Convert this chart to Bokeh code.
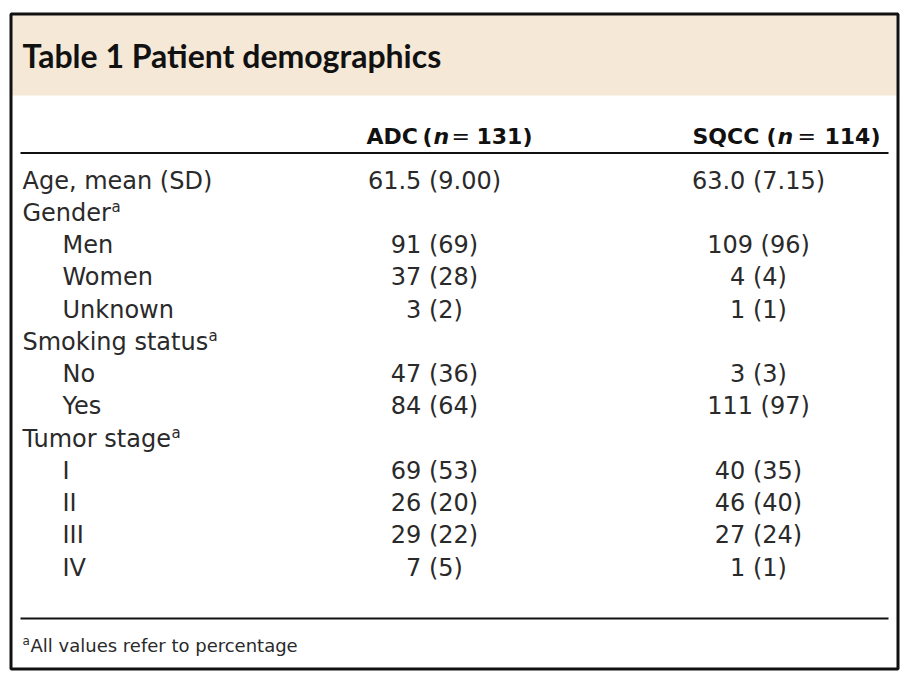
from bokeh.plotting import figure
from bokeh.models import Range1d, ColumnDataSource
from bokeh.core.properties import value
from bokeh.embed import file_html
from bokeh.resources import INLINE

# ---- table content ----
title = "Table 1 Patient demographics"
labels = ["Age, mean (SD)", "Gender", "Men", "Women", "Unknown", "Smoking status",
          "No", "Yes", "Tumor stage", "I", "II", "III", "IV"]
indent = [0, 0, 1, 1, 1, 0, 1, 1, 0, 1, 1, 1, 1]
note_rows = [1, 5, 8]
adc = ["61.5 (9.00)", "", "91 (69)", "37 (28)", "3 (2)", "", "47 (36)", "84 (64)", "",
       "69 (53)", "26 (20)", "29 (22)", "7 (5)"]
sqcc = ["63.0 (7.15)", "", "109 (96)", "4 (4)", "1 (1)", "", "3 (3)", "111 (97)", "",
        "40 (35)", "46 (40)", "27 (24)", "1 (1)"]
footnote = "All values refer to percentage"
note_mark = "a"

BODY = "DejaVu Sans"
TITLE_FONT = "Lato"
TXT = "#2a2a2a"
INK = "#111111"

W, H = 904, 674
p = figure(width=W, height=H, output_backend="svg", toolbar_location=None,
           x_range=Range1d(0, W), y_range=Range1d(H, 0),
           min_border=0, outline_line_color=None)
p.axis.visible = False
p.grid.visible = False
p.background_fill_color = "white"

# frame
p.quad(left=[11], right=[896], top=[14], bottom=[95], fill_color="#f6e8d7", line_color=None)
p.quad(left=[10.5], right=[897.5], top=[13.5], bottom=[668.5], fill_color=None,
       line_color=INK, line_width=3)

# title
p.text(x=[22], y=[55], text=[title], text_font=value(TITLE_FONT), text_font_style="bold",
       text_font_size="32px", text_baseline="middle", text_color=INK)

# header (pieces so that n can be italic)
hx = [366, 422, 433, 451, 476, 692, 766, 777, 797, 824]
ht = ["ADC", "(", "n", "=", "131)", "SQCC", "(", "n", "=", "114)"]
hs = ["bold", "bold", "bold italic", "normal", "bold",
      "bold", "bold", "bold italic", "normal", "bold"]
for x, t, s in zip(hx, ht, hs):
    p.text(x=[x], y=[136], text=[t], text_font=value(BODY), text_font_style=s,
           text_font_size="22px", text_baseline="middle", text_color=INK)

# rules
p.segment(x0=[20, 20], x1=[888, 888], y0=[152.5, 618], y1=[152.5, 618],
          line_color=INK, line_width=2)

# body
n = len(labels)
row_y = [180 + i * 32.25 for i in range(n)]
lab_x = [22 + 40 * k for k in indent]
src = ColumnDataSource(dict(x=lab_x, y=row_y, t=labels, a=adc, s=sqcc,
                            xa=[434] * n, xs=[758] * n))
common = dict(text_font=value(BODY), text_font_size="24px", text_baseline="middle",
              text_color=TXT, source=src)
p.text(x="x", y="y", text="t", text_align="left", **common)
p.text(x="xa", y="y", text="a", text_align="center", **common)
p.text(x="xs", y="y", text="s", text_align="center", **common)

# superscript note marks after labels (x = end of label text)
sup_x = [111, 208, 171]
p.text(x=sup_x, y=[row_y[i] - 6 for i in note_rows], text=[note_mark] * len(note_rows),
       text_font=value(BODY), text_font_size="15px", text_baseline="middle",
       text_color=TXT)

# footnote
p.text(x=[22], y=[640], text=[note_mark], text_font=value(BODY), text_font_size="12px",
       text_baseline="middle", text_color=TXT)
p.text(x=[30], y=[645], text=[footnote], text_font=value(BODY),
       text_font_size="18px", text_baseline="middle", text_color=TXT)

open("out.html", "w").write(file_html(p, INLINE))
